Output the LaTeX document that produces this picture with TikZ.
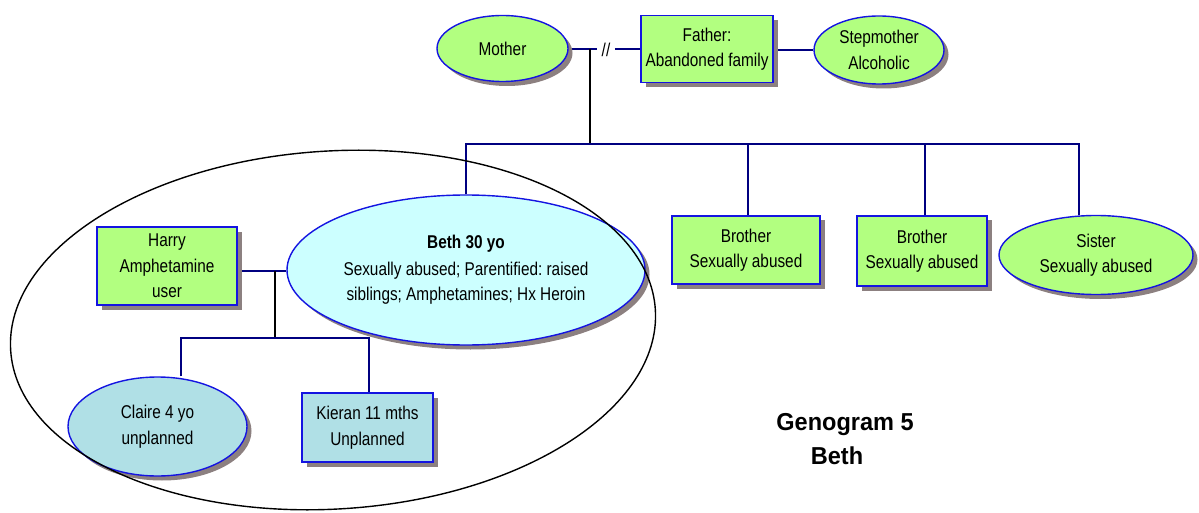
\documentclass[tikz,border=0pt]{standalone}
\usepackage{fontspec}
\setmainfont{Liberation Sans}[FakeStretch=0.83]
\newfontfamily\titlefont{Liberation Sans}[FakeStretch=0.96]
\usetikzlibrary{shapes.geometric,shadows,backgrounds}
\frenchspacing

\definecolor{leaf}{RGB}{178,255,128}
\definecolor{pale}{RGB}{204,255,255}
\definecolor{powder}{RGB}{176,224,230}
\definecolor{rim}{RGB}{20,20,225}
\definecolor{navyline}{RGB}{0,0,128}
\definecolor{shade}{RGB}{140,128,128}

\tikzset{
  person/.style={draw=rim, line width=1.4pt, inner sep=0pt, align=center,
    font=\fontsize{18.5}{25.5}\selectfont,
    drop shadow={shadow xshift=4.5pt, shadow yshift=-4.5pt, fill=shade, opacity=1}},
  male/.style={person, rectangle},
  female/.style={person, ellipse},
  conn/.style={draw=navyline, line width=2pt},
  desc/.style={draw=black, line width=1.3pt},
  titletext/.style={font=\titlefont\bfseries\fontsize{24.5}{34}\selectfont, anchor=base, inner sep=0pt},
}

\begin{document}
\begin{tikzpicture}[x=1pt,y=-1pt]
\useasboundingbox (0,0) rectangle (1199,513);

% parents' generation
\node[female, fill=leaf, minimum width=131pt, minimum height=66pt] (mother) at (502.5,48.5) {Mother};
\node[male, fill=leaf, minimum width=132pt, minimum height=67pt] (father) at (707,49) {Father:\\Abandoned family};
\node[female, fill=leaf, minimum width=130pt, minimum height=68pt] (stepm) at (879,50) {Stepmother\\Alcoholic};
\node[font=\fontsize{18.5}{25}\selectfont, inner xsep=4.5pt, inner ysep=0pt] (brk) at (606,49.5) {//};

% Beth and her siblings
\node[female, fill=pale, minimum width=358pt, minimum height=150pt] (beth) at (466,270)
  {{\bfseries Beth 30 yo}\\[1pt]Sexually abused; Parentified: raised\\siblings; Amphetamines; Hx Heroin};
\node[male, fill=leaf, minimum width=148pt, minimum height=68pt] (bro1) at (746,250) {Brother\\Sexually abused};
\node[male, fill=leaf, minimum width=130pt, minimum height=70pt] (bro2) at (922,251) {Brother\\Sexually abused};
\node[female, fill=leaf, minimum width=194pt, minimum height=79pt] (sister) at (1096,255) {Sister\\Sexually abused};

% Beth's partner and children
\node[male, fill=leaf, minimum width=140pt, minimum height=78pt] (harry) at (167,266) {Harry\\Amphetamine\\user};
\node[female, fill=powder, minimum width=179pt, minimum height=99pt] (claire) at (157.5,426.5) {Claire 4 yo\\unplanned};
\node[male, fill=powder, minimum width=131pt, minimum height=69pt] (kieran) at (367.5,427.5) {Kieran 11 mths\\Unplanned};

% title
\node[titletext] (title1) at (845,430) {Genogram 5};
\node[titletext] (title2) at (837,464) {Beth};

% junction points of the family lines
\coordinate (wed) at (590,49.5);
\coordinate (sib) at (590,144);
\coordinate (hb) at (275,271);
\coordinate (kids) at (275,338);

\begin{scope}[on background layer]
  \draw[conn] (mother.east |- brk) -- (brk.west);
  \draw[conn] (brk.east) -- (father.west |- brk);
  \draw[conn] (father.east |- stepm) -- (stepm.west);
  \draw[desc] (wed) -- (sib);
  \draw[conn] (beth.north) |- (sib) -| ([xshift=-17pt]sister.north);
  \draw[conn] ([xshift=2pt]bro1.north) -- ([xshift=2pt]bro1.north |- sib);
  \draw[conn] ([xshift=3pt]bro2.north) -- ([xshift=3pt]bro2.north |- sib);
  \draw[conn] (harry.east |- hb) -- (beth.west |- hb);
  \draw[desc] (hb) -- (kids);
  \draw[conn] ([xshift=23.5pt]claire.north) |- (kids) -| ([xshift=1.5pt]kieran.north);
\end{scope}

% Beth's own household
\node[ellipse, draw=black, line width=1.4pt, inner sep=0pt, minimum width=646pt,
  minimum height=358pt, rotate=3.6] (household) at (333,330) {};
\end{tikzpicture}
\end{document}
